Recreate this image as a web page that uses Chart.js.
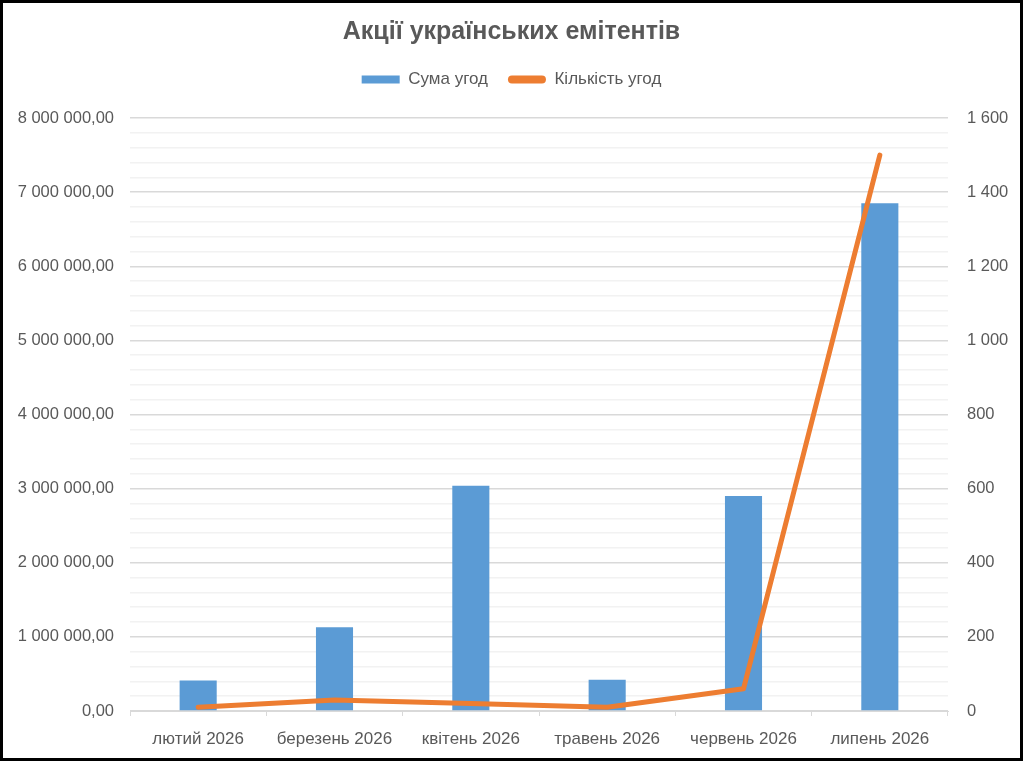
<!DOCTYPE html>
<html>
<head>
<meta charset="utf-8">
<script src="https://cdn.jsdelivr.net/npm/chart.js@4"></script>
<style>
html,body{margin:0;padding:0;background:#fff;}
#wrap{width:1023px;height:761px;position:relative;}
</style>
</head>
<body>
<div id="wrap"><canvas id="c" width="1023" height="761"></canvas></div>
<script>
const categories = ["лютий 2026", "березень 2026", "квітень 2026", "травень 2026", "червень 2026", "липень 2026"];
const sumValues = [410000, 1130000, 3040000, 420000, 2900000, 6850000];
const countValues = [10, 30, 20, 10, 60, 1500];
const chartTitle = "Акції українських емітентів";
const sumLabel = "Сума угод";
const countLabel = "Кількість угод";

function groupSpaces(n) {
  return String(Math.round(n)).replace(/\B(?=(\d{3})+(?!\d))/g, " ");
}
function fmtLeft(v) { return groupSpaces(v) + ",00"; }
function fmtRight(v) { return groupSpaces(v); }

const FONT = "'Liberation Sans', Arial, sans-serif";
const TXT = "#595959";

const borderPlugin = {
  id: 'frame',
  afterDraw(chart) {
    const ctx = chart.ctx;
    ctx.save();
    ctx.strokeStyle = '#000';
    ctx.lineWidth = 4;
    ctx.strokeRect(1, 1, chart.width - 2, chart.height - 2);
    ctx.restore();
  }
};

new Chart(document.getElementById('c'), {
  data: {
    labels: categories,
    datasets: [
      {
        type: 'line',
        label: countLabel,
        data: countValues,
        yAxisID: 'y1',
        borderColor: '#ED7D31',
        backgroundColor: '#ED7D31',
        borderWidth: 5,
        borderCapStyle: 'round',
        borderJoinStyle: 'round',
        pointRadius: 0,
        pointHoverRadius: 0,
        tension: 0,
        order: 0
      },
      {
        type: 'bar',
        label: sumLabel,
        data: sumValues,
        yAxisID: 'y',
        backgroundColor: '#5B9BD5',
        borderWidth: 0,
        categoryPercentage: 1,
        barPercentage: 0.272,
        order: 1
      }
    ]
  },
  plugins: [borderPlugin],
  options: {
    responsive: false,
    animation: false,
    devicePixelRatio: 1,
    layout: { padding: { top: 0, left: 0, right: 0, bottom: 0 } },
    plugins: {
      tooltip: { enabled: false },
      title: {
        display: true,
        text: chartTitle,
        color: TXT,
        font: { family: FONT, size: 25, weight: 'bold' },
        padding: { top: 17, bottom: 4 }
      },
      subtitle: {
        display: true,
        text: ' ',
        weight: 500,
        font: { family: FONT, size: 10 },
        padding: { top: 0, bottom: 8 }
      },
      legend: {
        display: true,
        reverse: true,
        labels: {
          color: TXT,
          font: { family: FONT, size: 17 },
          boxWidth: 38,
          boxHeight: 8,
          padding: 20,
          useBorderRadius: true,
          generateLabels(chart) {
            return chart.data.datasets.map((ds, i) => ({
              text: ds.label,
              fillStyle: ds.backgroundColor,
              strokeStyle: ds.backgroundColor,
              lineWidth: 0,
              fontColor: TXT,
              borderRadius: ds.type === 'line' ? 4 : 0,
              datasetIndex: i,
              hidden: false
            }));
          }
        }
      }
    },
    scales: {
      x: {
        offset: true,
        grid: { offset: true, drawOnChartArea: false, drawTicks: true, tickLength: 5, color: '#d9d9d9' },
        border: { display: true, color: '#d9d9d9', width: 1 },
        ticks: { color: TXT, font: { family: FONT, size: 17 }, padding: 13, maxRotation: 0, autoSkip: false },
        afterFit(s) { s.height = 50; }
      },
      y: {
        position: 'left',
        min: 0,
        max: 8000000,
        ticks: {
          stepSize: 200000,
          color: TXT,
          font: { family: FONT, size: 16.5 },
          padding: 16,
          autoSkip: false,
          callback(v) { return (v % 1000000 === 0) ? fmtLeft(v) : ''; }
        },
        grid: {
          drawTicks: false,
          color(ctx) { return (ctx.tick && ctx.tick.value % 1000000 === 0) ? '#d9d9d9' : '#f2f2f2'; },
          lineWidth: 1.5
        },
        border: { display: false },
        afterFit(s) { s.width = 130; }
      },
      y1: {
        position: 'right',
        min: 0,
        max: 1600,
        ticks: {
          stepSize: 200,
          color: TXT,
          font: { family: FONT, size: 16.5 },
          padding: 19,
          callback(v) { return fmtRight(v); }
        },
        grid: { drawOnChartArea: false, drawTicks: false },
        border: { display: false },
        afterFit(s) { s.width = 75; }
      }
    }
  }
});
</script>
</body>
</html>
